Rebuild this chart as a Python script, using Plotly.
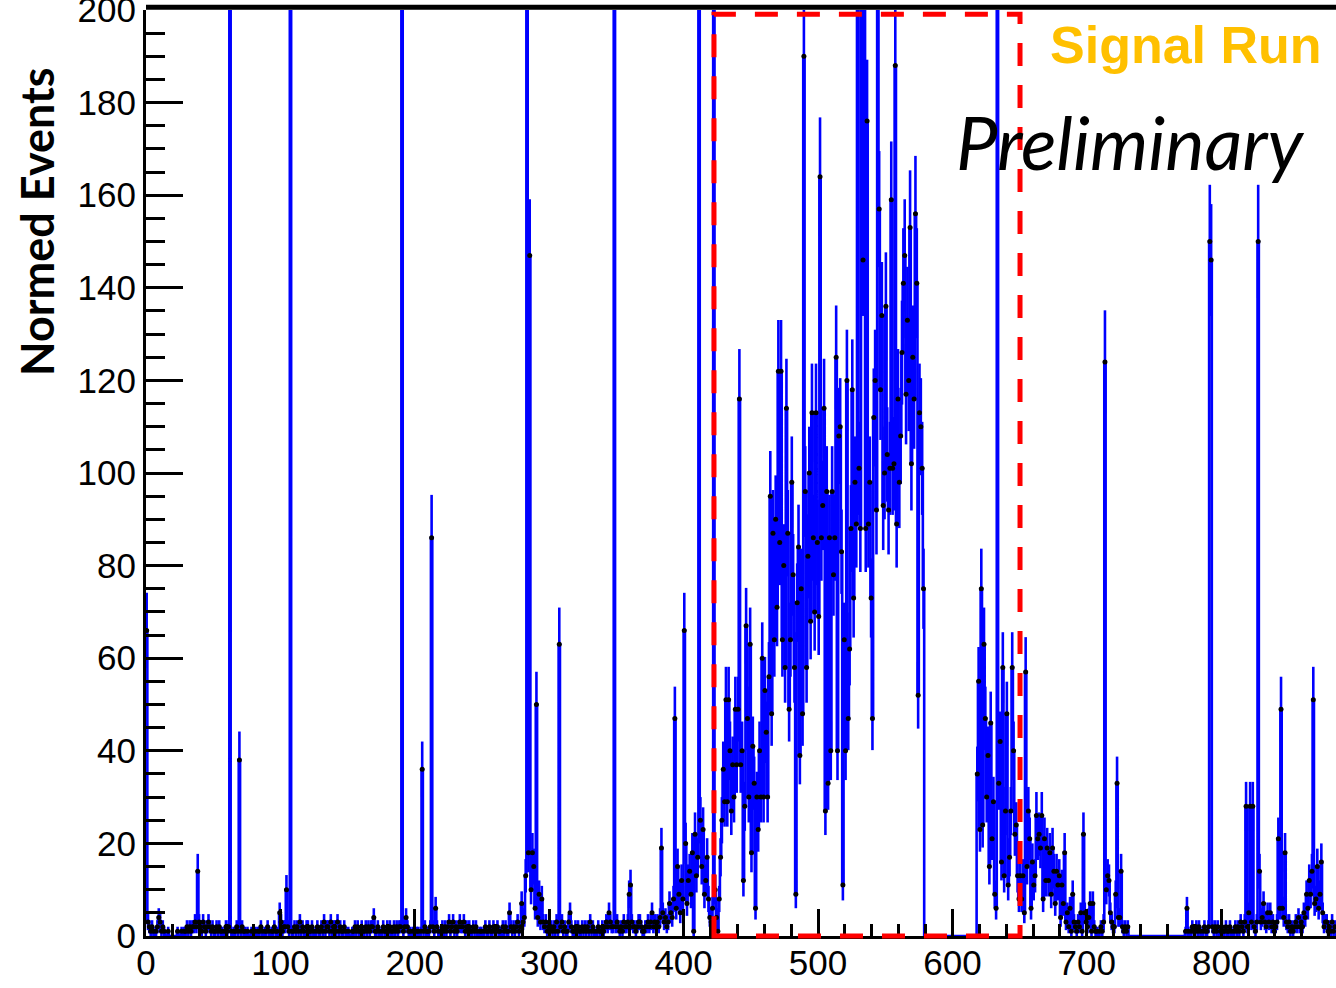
import numpy as np
import plotly.graph_objects as go

# ---------------- data (histogram, bin width 1, starting at 0) ----------------
bin_lo = 0.0
bin_width = 1.0
x_max = 885.4
y_max = 200.0

counts_000_099 = [
    66, 3, 2, 1, 2, 1, 0, 1, 2, 4, 3, 1, 2, 1, 0, 0, 1, 0, 0, 0,
    0, 0, 0, 1, 0, 0, 1, 0, 1, 1, 2, 1, 2, 1, 2, 2, 3, 2, 14, 3,
    2, 1, 3, 2, 1, 2, 3, 2, 1, 2, 1, 1, 2, 1, 2, 1, 1, 0, 1, 2,
    1, 2, 310, 1, 0, 1, 1, 2, 1, 38, 1, 2, 1, 1, 0, 1, 0, 0, 1, 0,
    0, 1, 0, 1, 1, 2, 1, 0, 1, 1, 2, 1, 0, 1, 1, 2, 1, 1, 0, 5,
]
counts_100_199 = [
    3, 1, 2, 2, 10, 2, 1, 320, 1, 1, 2, 1, 2, 1, 3, 1, 2, 1, 0, 2,
    2, 1, 1, 2, 1, 0, 1, 2, 1, 1, 2, 1, 3, 1, 2, 2, 1, 3, 1, 2,
    2, 1, 3, 1, 2, 1, 1, 2, 1, 0, 1, 0, 0, 1, 1, 2, 1, 2, 1, 1,
    2, 1, 1, 2, 1, 2, 1, 2, 2, 4, 1, 1, 2, 1, 0, 1, 2, 1, 1, 2,
    1, 2, 1, 1, 2, 1, 2, 1, 2, 2, 330, 1, 2, 4, 2, 1, 1, 0, 1, 0,
]
counts_200_299 = [
    0, 1, 1, 0, 1, 36, 1, 2, 1, 1, 1, 2, 86, 2, 1, 6, 2, 1, 0, 1,
    2, 1, 2, 1, 2, 3, 1, 2, 3, 1, 2, 1, 2, 3, 2, 2, 3, 1, 2, 1,
    2, 1, 1, 2, 1, 2, 1, 0, 1, 1, 0, 1, 2, 1, 1, 2, 1, 1, 2, 1,
    1, 2, 1, 1, 0, 2, 1, 2, 1, 1, 5, 2, 1, 2, 1, 2, 3, 1, 2, 7,
    3, 4, 13, 340, 18, 147, 10, 18, 15, 6, 50, 4, 9, 3, 8, 3, 2, 3, 1, 2,
]
counts_300_399 = [
    1, 2, 1, 2, 1, 3, 1, 63, 2, 3, 1, 2, 1, 1, 3, 5, 2, 1, 1, 2,
    1, 2, 1, 1, 2, 1, 2, 1, 2, 1, 3, 1, 2, 1, 0, 1, 2, 1, 1, 2,
    1, 2, 3, 2, 5, 3, 2, 2, 350, 2, 3, 2, 1, 2, 1, 3, 2, 2, 3, 9,
    11, 3, 2, 2, 1, 2, 3, 3, 2, 1, 1, 2, 2, 3, 2, 3, 5, 2, 3, 2,
    3, 2, 4, 19, 5, 3, 4, 2, 3, 7, 5, 4, 8, 47, 6, 15, 9, 5, 12, 8,
]
counts_400_499 = [
    66, 20, 7, 12, 14, 9, 18, 1, 22, 13, 17, 330, 25, 15, 23, 9, 12, 17, 8, 4,
    3, 6, 330, 10, 4, 1, 8, 17, 25, 36, 29, 51, 29, 51, 40, 27, 37, 30, 49, 37,
    49, 116, 37, 40, 12, 28, 67, 47, 30, 63, 18, 41, 33, 6, 30, 23, 40, 30, 60, 30,
    53, 44, 30, 56, 95, 48, 87, 64, 90, 71, 122, 85, 122, 64, 80, 58, 114, 87, 49, 64,
    98, 78, 58, 9, 72, 84, 39, 75, 48, 190, 96, 58, 82, 100, 68, 113, 86, 70, 113, 85,
]
counts_500_599 = [
    69, 164, 86, 93, 114, 27, 96, 33, 86, 40, 96, 78, 86, 125, 40, 108, 110, 83, 11, 64,
    40, 120, 47, 62, 88, 118, 73, 98, 89, 300, 101, 88, 300, 146, 300, 88, 176, 89, 98, 73,
    47, 112, 120, 92, 300, 157, 118, 134, 93, 100, 136, 104, 92, 101, 159, 101, 102, 188, 89, 116,
    98, 108, 126, 141, 147, 117, 133, 120, 153, 102, 125, 116, 156, 141, 52, 113, 110, 101, 75, 0,
    0, 0, 0, 0, 0, 0, 0, 0, 0, 0, 0, 0, 0, 0, 0, 0, 0, 0, 0, 0,
]
counts_600_699 = [
    0, 0, 0, 0, 0, 0, 0, 0, 0, 0, 0, 0, 0, 0, 0, 0, 0, 0, 35, 55,
    23, 75, 24, 63, 47, 30, 39, 15, 46, 21, 29, 9, 6, 300, 33, 42, 16, 58, 13, 27,
    48, 11, 17, 27, 58, 40, 22, 24, 13, 8, 13, 8, 13, 5, 57, 15, 27, 21, 6, 16,
    11, 13, 26, 21, 22, 19, 26, 8, 21, 12, 19, 12, 18, 9, 19, 14, 7, 14, 11, 13,
    4, 11, 7, 18, 3, 5, 2, 6, 1, 9, 3, 2, 1, 3, 2, 5, 1, 22, 5, 3,
]
counts_700_799 = [
    2, 4, 7, 1, 7, 2, 1, 1, 0, 1, 2, 1, 3, 124, 10, 13, 12, 5, 3, 2,
    2, 9, 33, 4, 4, 14, 2, 1, 2, 1, 2, 0, 0, 0, 0, 0, 0, 0, 0, 0,
    0, 0, 0, 0, 0, 0, 0, 0, 0, 0, 0, 0, 0, 0, 0, 0, 0, 0, 0, 0,
    0, 0, 0, 0, 0, 0, 0, 0, 0, 0, 0, 0, 0, 1, 6, 1, 0, 1, 2, 1,
    1, 2, 1, 2, 1, 0, 1, 2, 1, 1, 2, 150, 146, 2, 1, 2, 1, 2, 0, 1,
]
counts_800_899 = [
    2, 1, 1, 2, 1, 1, 2, 1, 0, 1, 2, 1, 2, 1, 3, 2, 1, 3, 28, 2,
    5, 28, 3, 28, 2, 1, 3, 150, 14, 3, 4, 7, 3, 2, 5, 3, 5, 2, 3, 1,
    2, 3, 21, 6, 49, 6, 4, 18, 3, 2, 3, 1, 2, 1, 2, 3, 2, 4, 2, 3,
    2, 5, 4, 9, 6, 12, 9, 14, 51, 7, 8, 15, 6, 9, 16, 5, 2, 3, 3, 1,
    2, 1, 3, 1, 2, 0, 0, 0, 0, 0, 0, 0, 0, 0, 0, 0, 0, 0, 0, 0,
]

signal_window = (422.6, 650.3)   # red dashed box (x range)
signal_box_top = 199.1

x_tick_vals = [0, 100, 200, 300, 400, 500, 600, 700, 800]
y_tick_vals = [0, 20, 40, 60, 80, 100, 120, 140, 160, 180, 200]

# ---------------- build ----------------
counts = np.array(counts_000_099 + counts_100_199 + counts_200_299 + counts_300_399 +
                  counts_400_499 + counts_500_599 + counts_600_699 + counts_700_799 +
                  counts_800_899, dtype=float)
n_bins = len(counts)
edges = bin_lo + bin_width * np.arange(n_bins + 1)
centers = edges[:-1] + bin_width / 2
errors = np.sqrt(counts)  # Poisson errors of the histogram

BLUE = "#0000FF"
fig = go.Figure()

# histogram outline
fig.add_trace(go.Scatter(
    x=edges, y=np.append(counts, counts[-1]), mode="lines", line_shape="hv",
    line=dict(color=BLUE, width=2.6), hoverinfo="skip", showlegend=False))

nz = counts > 0
fig.add_trace(go.Scatter(
    x=centers[nz], y=counts[nz], mode="markers",
    marker=dict(color="black", size=5),
    error_y=dict(type="data", array=errors[nz], color=BLUE, thickness=2.6, width=0),
    showlegend=False))

L, R, T, B = 146, 0, 10, 52
W, H = 1336, 988
pw, ph = W - L - R, H - T - B

def px_x(p):
    return (p - L) / pw

def px_y(p):
    return (H - B - p) / ph

tick_font = dict(family="Liberation Sans, Arial, sans-serif", size=35, color="black")

fig.update_layout(
    width=W, height=H,
    margin=dict(l=L, r=R, t=T, b=B, pad=0, autoexpand=False),
    paper_bgcolor="white", plot_bgcolor="white",
    xaxis=dict(range=[0, x_max], showgrid=False, zeroline=False, automargin=False,
               showline=True, linecolor="black", linewidth=3,
               ticks="inside", ticklen=27, tickwidth=2.5, tickcolor="black",
               tickvals=x_tick_vals, tickfont=tick_font, ticklabelstandoff=-6,
               ticklabeloverflow="allow",
               minor=dict(dtick=20, ticks="inside", ticklen=12, tickwidth=2.5,
                          tickcolor="black", showgrid=False)),
    yaxis=dict(range=[0, y_max], showgrid=False, zeroline=False, automargin=False,
               showline=True, linecolor="black", linewidth=3,
               ticks="inside", ticklen=37, tickwidth=2.5, tickcolor="black",
               tickvals=y_tick_vals, tickfont=tick_font, ticklabelstandoff=0,
               ticklabeloverflow="allow",
               minor=dict(dtick=5, ticks="inside", ticklen=19, tickwidth=2.5,
                          tickcolor="black", showgrid=False)),
)

# top frame line
fig.add_shape(type="line", xref="paper", yref="paper", x0=0, x1=1.0,
              y0=1.003, y1=1.003, line=dict(color="black", width=5))

# red dashed signal window
fig.add_shape(type="rect", xref="paper", yref="paper",
              x0=signal_window[0] / x_max, x1=signal_window[1] / x_max,
              y0=0, y1=signal_box_top / y_max,
              line=dict(color="#FF0000", width=5, dash="23px,19px"),
              fillcolor="rgba(0,0,0,0)")

fig.add_annotation(text="<b>Signal Run</b>", xref="paper", yref="paper",
                   x=px_x(1185.5), y=px_y(45), xanchor="center", yanchor="middle",
                   showarrow=False,
                   font=dict(family="Liberation Sans, Arial", size=52, color="#FFC000"))
fig.add_annotation(text="<i>Preliminary</i>", xref="paper", yref="paper",
                   x=px_x(1130), y=px_y(141), xanchor="center", yanchor="middle",
                   showarrow=False,
                   font=dict(family="Lato", size=74, color="black"))
fig.add_annotation(text="<b>Normed Events</b>", xref="paper", yref="paper",
                   x=px_x(37), y=px_y(222), xanchor="center", yanchor="middle",
                   textangle=-90, showarrow=False,
                   font=dict(family="Lato", size=45, color="black"))

fig.write_html("out.html")
